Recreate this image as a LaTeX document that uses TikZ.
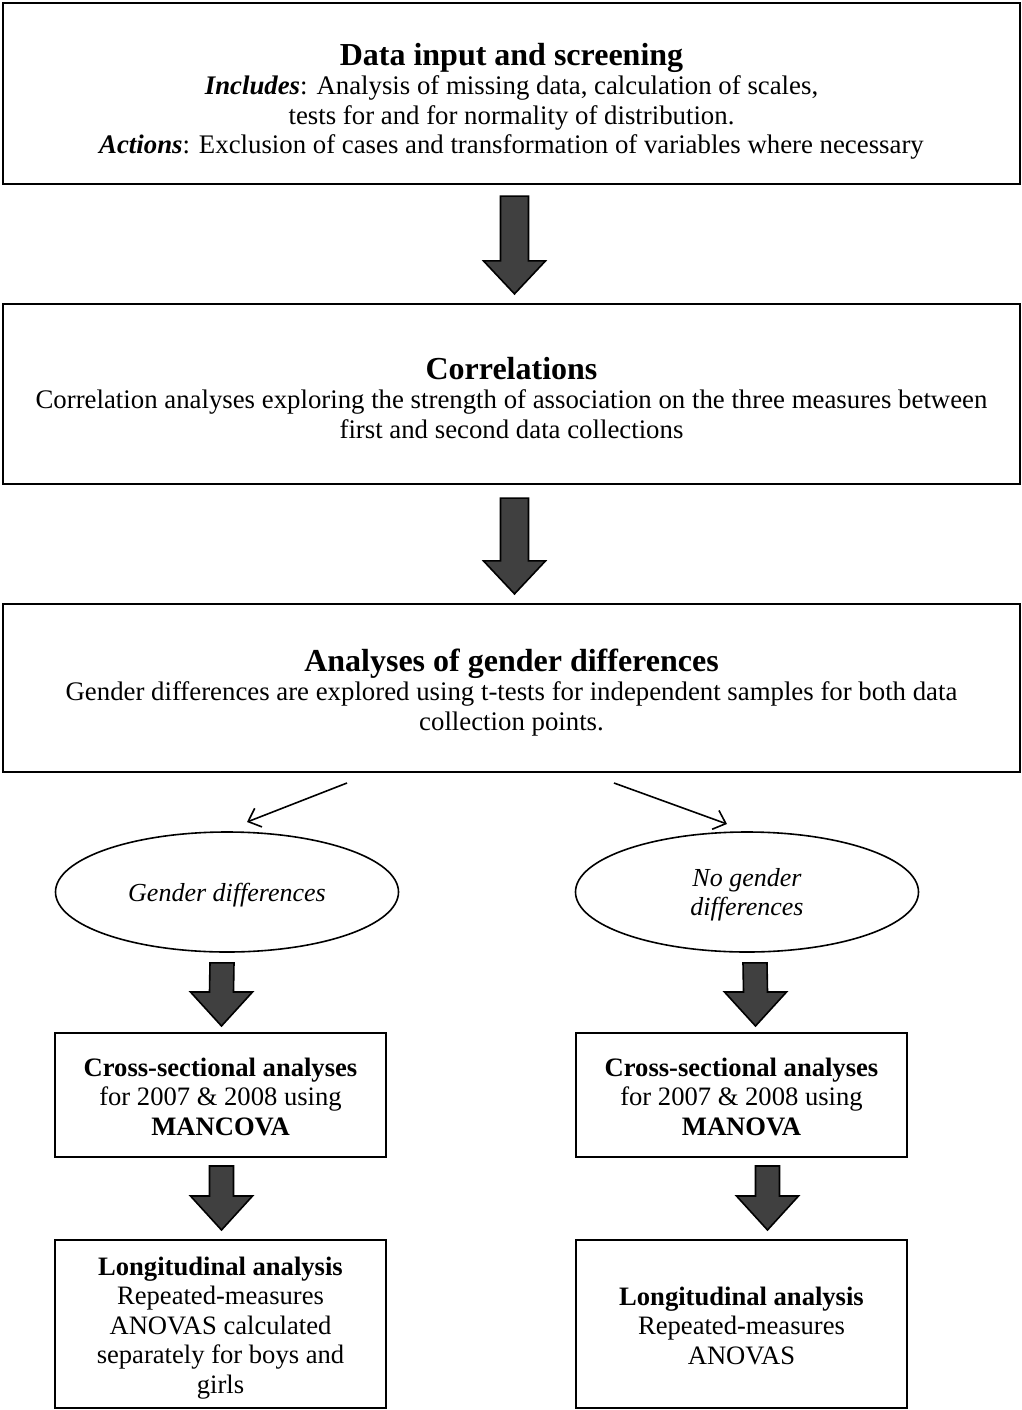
\documentclass[tikz,border=0pt]{standalone}
\usepackage{fontspec}
\setmainfont{Liberation Serif}
\usetikzlibrary{shapes.geometric,calc,arrows.meta}

\tikzset{
  stage/.style={draw, line width=2.2pt, minimum width=1017pt, align=center,
    font=\fontsize{26.8}{29.5}\selectfont, inner sep=0pt},
  smallbox/.style={draw, line width=2pt, minimum width=331pt, align=center,
    font=\fontsize{26.6}{29.5}\selectfont, inner sep=0pt},
  oval/.style={draw, line width=1.6pt, ellipse, minimum width=343pt, minimum height=120pt,
    align=center, inner sep=0pt, font=\fontsize{26}{28.5}\selectfont\itshape},
  blockarrow/.style={draw=black, line width=1.6pt, fill=black!75, line join=miter},
  thinarrow/.style={draw, line width=1.6pt, -{Straight Barb[length=11pt,width=20pt,line width=1.6pt]}}
}
% bold heading of a stage, with a strut that sets its top clearance
\newcommand{\stagetitle}[2]{{\fontsize{32}{33}\selectfont\bfseries\rule{0pt}{#1}#2}}

% block arrow pointing down: top centre, tip, shaft half width, head half width, head length
\newcommand{\downblock}[5]{%
  \path[blockarrow] ($(#1)+(-#3,0)$) -- ($(#1)+(#3,0)$) -- ($(#2)+(#3,#5)$) -- ($(#2)+(#4,#5)$)
    -- (#2) -- ($(#2)+(-#4,#5)$) -- ($(#2)+(-#3,#5)$) -- cycle;}

\begin{document}
\begin{tikzpicture}[x=1pt,y=-1pt]
\useasboundingbox (0,0) rectangle (1022,1410);

\node[stage, minimum height=181pt] (input) at (511.5,93.5)
  {\stagetitle{38pt}{Data input and screening}\\
   \textbf{\textit{Includes}}: Analysis of missing data, calculation of scales,\\
   tests for and for normality of distribution.\\
   \textbf{\textit{Actions}}: Exclusion of cases and transformation of variables where necessary};

\node[stage, minimum height=180pt] (corr) at (511.5,394)
  {\stagetitle{30pt}{Correlations}\\
   Correlation analyses exploring the strength of association on the three measures between\\
   first and second data collections};

\node[stage, minimum height=168pt] (gender) at (511.5,688)
  {\stagetitle{31pt}{Analyses of gender differences}\\
   Gender differences are explored using t-tests for independent samples for both data\\
   collection points.};

\node[oval] (diff) at (227,892) {\rule{0pt}{24pt}Gender differences};
\node[oval] (nodiff) at (747,892) {\rule{0pt}{24pt}No gender\\differences};

\node[smallbox, minimum height=124pt] (mancova) at (220.5,1095)
  {\rule{0pt}{22pt}\textbf{Cross-sectional analyses}\\for 2007 \& 2008 using\\\textbf{MANCOVA}};
\node[smallbox, minimum height=124pt] (manova) at (741.5,1095)
  {\rule{0pt}{22pt}\textbf{Cross-sectional analyses}\\for 2007 \& 2008 using\\\textbf{MANOVA}};

\node[smallbox, minimum height=168pt] (longA) at (220.5,1324)
  {\rule{0pt}{26pt}\textbf{Longitudinal analysis}\\Repeated-measures\\ANOVAS calculated\\separately for boys and\\girls};
\node[smallbox, minimum height=168pt] (longB) at (741.5,1324)
  {\rule{0pt}{22pt}\textbf{Longitudinal analysis}\\Repeated-measures\\ANOVAS};

% wide block arrows between the stages
\coordinate (a1s) at ($(input.south)+(3,11)$);
\coordinate (a1e) at ($(corr.north)+(3,-9)$);
\downblock{a1s}{a1e}{14}{31}{-33}
\coordinate (a2s) at ($(corr.south)+(3,13)$);
\coordinate (a2e) at ($(gender.north)+(3,-9)$);
\downblock{a2s}{a2e}{14}{31}{-33}

% thin branching arrows
\coordinate (b1) at (347,783);
\coordinate (b1e) at (247,822);
\coordinate (b2) at (614,783);
\coordinate (b2e) at (727,824);
\draw[thinarrow] (b1) -- (b1e);
\draw[thinarrow] (b2) -- (b2e);

% block arrows in the two branches
\coordinate (l1s) at ($(diff.south)+(-5,10)$);
\coordinate (l1e) at ($(mancova.north)+(1,-6)$);
\downblock{l1s}{l1e}{12}{31}{-34}
\coordinate (r1s) at ($(nodiff.south)+(8,10)$);
\coordinate (r1e) at ($(manova.north)+(14,-6)$);
\downblock{r1s}{r1e}{12}{31}{-34}

\coordinate (l2s) at ($(mancova.south)+(1,8)$);
\coordinate (l2e) at ($(longA.north)+(1,-9)$);
\downblock{l2s}{l2e}{12}{31}{-34}
\coordinate (r2s) at ($(manova.south)+(26,8)$);
\coordinate (r2e) at ($(longB.north)+(26,-9)$);
\downblock{r2s}{r2e}{12}{31}{-34}
\end{tikzpicture}
\end{document}
